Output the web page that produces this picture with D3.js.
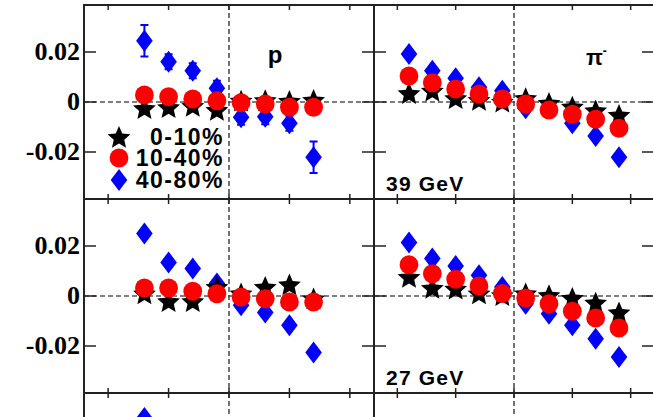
<!DOCTYPE html>
<html>
<head>
<meta charset="utf-8">
<script src="https://cdn.jsdelivr.net/npm/d3@7"></script>
<style>
  html, body { margin: 0; padding: 0; background: #fff; }
  svg { display: block; }
</style>
</head>
<body>
<svg id="chart" width="653" height="417"></svg>
<script>
// Bin centres along x for each species
const xProton = [-0.7, -0.5, -0.3, -0.1, 0.1, 0.3, 0.5, 0.7];
const xPion = [-0.9, -0.7, -0.5, -0.3, -0.1, 0.1, 0.3, 0.5, 0.7, 0.9];

const centralities = ["0-10%", "10-40%", "40-80%"];
const yTicks = [-0.02, 0, 0.02];
const yTickLabels = ["-0.02", "0", "0.02"];
const xTicks = [-1, -0.5, 0, 0.5, 1];

// 39 GeV, protons
const p39_0_10 = [-0.0025, -0.0021, -0.0016, -0.0032, 0.0005, 0.0007, 0.0004, 0.0008];
const p39_10_40 = [0.0028, 0.0021, 0.0012, 0.0005, -0.0003, -0.0008, -0.0021, -0.0021];
const p39_40_80 = [0.0245, 0.0161, 0.0125, 0.0055, -0.0061, -0.0059, -0.0085, -0.0221];
const p39_40_80_err = [0.0063, 0.003, 0.003, 0.003, 0.003, 0.003, 0.003, 0.0063];

// 39 GeV, pi-
const pi39_0_10 = [0.0035, 0.0045, 0.0015, 0.0008, 0.0001, 0.0015, -0.0004, -0.0019, -0.0034, -0.0052];
const pi39_10_40 = [0.0104, 0.0077, 0.0052, 0.0032, 0.0012, -0.0008, -0.0032, -0.0049, -0.0069, -0.0105];
const pi39_40_80 = [0.0192, 0.0125, 0.0095, 0.0059, 0.0045, -0.0025, -0.0022, -0.0085, -0.0136, -0.0221];

// 27 GeV, protons
const p27_0_10 = [0.0010, -0.0021, -0.0021, 0.0036, 0.0010, 0.0036, 0.0046, -0.0010];
const p27_10_40 = [0.0032, 0.0032, 0.0019, 0.0009, -0.0004, -0.0011, -0.0024, -0.0024];
const p27_40_80 = [0.0250, 0.0134, 0.0110, 0.0050, -0.0037, -0.0066, -0.0117, -0.0226];

// 27 GeV, pi-
const pi27_0_10 = [0.0076, 0.0032, 0.0029, 0.0010, 0.0003, 0.0010, 0.0003, -0.0008, -0.0027, -0.0066];
const pi27_10_40 = [0.0125, 0.0089, 0.0067, 0.0040, 0.0010, -0.0008, -0.0031, -0.0061, -0.0088, -0.0128];
const pi27_40_80 = [0.0214, 0.0150, 0.0120, 0.0083, 0.0036, -0.0031, -0.0071, -0.0117, -0.0171, -0.0244];

// next energy row, first bins only
const pLow_40_80 = [0.0288];
const piLow_40_80 = [0.0216];

const rows = [
  { label: "39 GeV", ticks: true,
    p: [p39_0_10, p39_10_40, p39_40_80], pErr: p39_40_80_err,
    pi: [pi39_0_10, pi39_10_40, pi39_40_80] },
  { label: "27 GeV", ticks: true,
    p: [p27_0_10, p27_10_40, p27_40_80], pErr: null,
    pi: [pi27_0_10, pi27_10_40, pi27_40_80] },
  { label: null, ticks: false,
    p: [[], [], pLow_40_80], pErr: null,
    pi: [[], [], piLow_40_80] }
];

const svg = d3.select("#chart");
const colors = ["#000000", "#ff0000", "#0000ff"];
const frameColor = "#222";
const sans = "'Liberation Sans', Arial, sans-serif";

// panel geometry
const leftX0 = 84, midX = 374, rightX1 = 654;
const rowTop = [5, 199, 393];
const rowH = 194;

const xP = d3.scaleLinear().domain([-1.2, 1.2]).range([leftX0, midX]);
const xPi = d3.scaleLinear().domain([-1.2, 1.2]).range([midX, rightX1]);

// five-pointed star with a fairly fat body
function starPath(R, ratio) {
  const pts = [];
  for (let i = 0; i < 10; i++) {
    const r = i % 2 === 0 ? R : R * ratio;
    const a = -Math.PI / 2 + i * Math.PI / 5;
    pts.push([r * Math.cos(a), r * Math.sin(a)]);
  }
  return "M" + pts.map(p => p[0].toFixed(2) + "," + p[1].toFixed(2)).join("L") + "Z";
}
const STAR = starPath(12, 0.46);
function diamondPath(w, h) {
  return `M0,${-h}L${w},0L0,${h}L${-w},0Z`;
}
const DIAMOND = diamondPath(8.3, 11);

function drawMarker(g, kind, x, y) {
  if (kind === 0) {
    g.append("path").attr("d", STAR).attr("transform", `translate(${x},${y + 1})`)
      .attr("fill", colors[0]);
  } else if (kind === 1) {
    g.append("circle").attr("cx", x).attr("cy", y).attr("r", 9.4).attr("fill", colors[1]);
  } else {
    g.append("path").attr("d", DIAMOND).attr("transform", `translate(${x},${y})`)
      .attr("fill", colors[2]);
  }
}

rows.forEach((row, ri) => {
  const top = rowTop[ri];
  const y = d3.scaleLinear().domain([-0.0388, 0.0388]).range([top + rowH, top]);

  [[xP, xProton, row.p, row.pErr, leftX0, midX], [xPi, xPion, row.pi, null, midX, rightX1]]
    .forEach(([x, xs, series, err, x0, x1], pi) => {
      const g = svg.append("g");
      const y0 = y(0);

      // reference lines at zero
      g.append("line").attr("x1", x0).attr("x2", x1).attr("y1", y0).attr("y2", y0)
        .attr("stroke", "#555").attr("stroke-width", 1.5).attr("stroke-dasharray", "5,3");
      g.append("line").attr("x1", x(0)).attr("x2", x(0)).attr("y1", top).attr("y2", top + rowH)
        .attr("stroke", "#444").attr("stroke-width", 1.5).attr("stroke-dasharray", "5,3");

      // y ticks on both vertical edges, pointing inward
      yTicks.forEach(t => {
        g.append("line").attr("x1", x0).attr("x2", x0 + 12).attr("y1", y(t)).attr("y2", y(t))
          .attr("stroke", frameColor).attr("stroke-width", 1.5);
        g.append("line").attr("x1", x1 - 12).attr("x2", x1).attr("y1", y(t)).attr("y2", y(t))
          .attr("stroke", frameColor).attr("stroke-width", 1.5);
      });
      // x ticks on top and bottom edges, pointing inward
      xTicks.forEach(t => {
        g.append("line").attr("x1", x(t)).attr("x2", x(t)).attr("y1", top).attr("y2", top + 5)
          .attr("stroke", frameColor).attr("stroke-width", 1.5);
        g.append("line").attr("x1", x(t)).attr("x2", x(t)).attr("y1", top + rowH - 5).attr("y2", top + rowH)
          .attr("stroke", frameColor).attr("stroke-width", 1.5);
      });

      // error bars for the peripheral proton points
      if (err) {
        series[2].forEach((v, i) => {
          const cx = x(xs[i]);
          g.append("line").attr("x1", cx).attr("x2", cx).attr("y1", y(v - err[i])).attr("y2", y(v + err[i]))
            .attr("stroke", colors[2]).attr("stroke-width", 2);
          [v - err[i], v + err[i]].forEach(e => {
            g.append("line").attr("x1", cx - 4).attr("x2", cx + 4).attr("y1", y(e)).attr("y2", y(e))
              .attr("stroke", colors[2]).attr("stroke-width", 2);
          });
        });
      }

      // markers: peripheral underneath, then central, then mid-central on top
      [2, 0, 1].forEach(k => {
        series[k].forEach((v, i) => drawMarker(g, k, x(xs[i]), y(v)));
      });

      // frame
      g.append("rect").attr("x", x0).attr("y", top).attr("width", x1 - x0).attr("height", rowH)
        .attr("fill", "none").attr("stroke", frameColor).attr("stroke-width", 2);

      // y tick labels on the outer left edge
      if (pi === 0 && row.ticks) {
        yTicks.forEach((t, ti) => {
          svg.append("text").attr("x", 80).attr("y", y(t) + 8)
            .attr("text-anchor", "end")
            .attr("font-family", "'Liberation Serif', 'Times New Roman', serif")
            .attr("font-weight", "bold").attr("font-size", 26)
            .text(yTickLabels[ti]);
        });
      }

      // species labels in the top row
      if (ri === 0) {
        if (pi === 0) {
          g.append("text").attr("x", 275).attr("y", 63).attr("text-anchor", "middle")
            .attr("font-family", sans).attr("font-weight", "bold")
            .attr("font-size", 24).text("p");
        } else {
          const t = g.append("text").attr("x", 586).attr("y", 65)
            .attr("font-family", sans).attr("font-weight", "bold")
            .attr("font-size", 22);
          t.append("tspan").text("π");
          t.append("tspan").attr("dy", -10).attr("font-size", 12).text("-");
        }
      }

      // energy label
      if (pi === 1 && row.label) {
        g.append("text").attr("x", 386).attr("y", top + 186)
          .attr("font-family", sans).attr("font-weight", "bold")
          .attr("font-size", 21).attr("letter-spacing", 1.2).text(row.label);
      }
    });
});

// legend
const legend = svg.append("g");
const legendY = [137, 158, 180];
centralities.forEach((c, i) => {
  drawMarker(legend, i, 119, legendY[i]);
  legend.append("text").attr("x", 224).attr("y", legendY[i] + 8).attr("text-anchor", "end")
    .attr("font-family", sans).attr("font-weight", "bold")
    .attr("font-size", 23).attr("letter-spacing", 1.5).text(c);
});
</script>
</body>
</html>
